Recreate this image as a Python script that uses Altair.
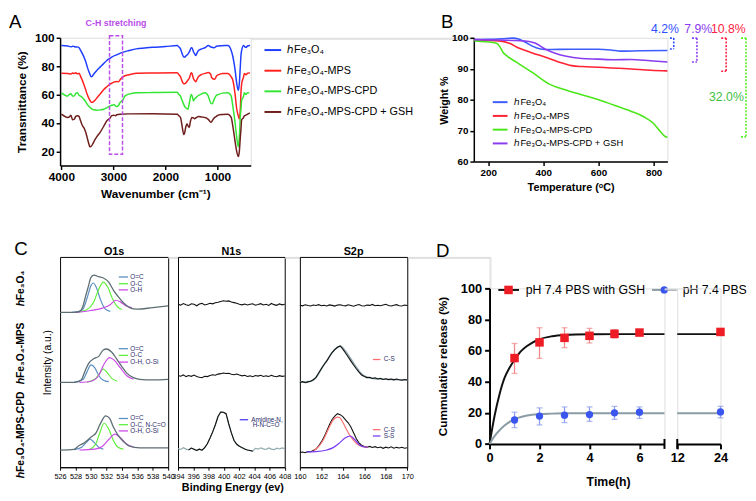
import altair as alt
import pandas as pd

FONT = "Liberation Sans"

# ======================= Panel A : FTIR =======================
A_series = ["ℎFe₃O₄", "ℎFe₃O₄-MPS", "ℎFe₃O₄-MPS-CPD", "ℎFe₃O₄-MPS-CPD + GSH"]
A_colors = ["#1f3dff", "#ff1f1f", "#33e633", "#6e1f1c"]

A_w_blue = [4000, 3880, 3817, 3786, 3755, 3723, 3692, 3660, 3629, 3597, 3566, 3534, 3503, 3453, 3428, 3409, 3377, 3315, 3252, 3189,
            3126, 3063, 3032, 2937, 2812, 2700, 2560, 2400, 2246, 2000, 1774, 1740, 1711, 1680, 1648, 1629, 1600, 1566, 1541, 1503,
            1491, 1459, 1440, 1415, 1396, 1365, 1302, 1239, 1176, 1126, 1063, 1019, 987, 860, 799, 736, 705, 660, 630, 598,
            579, 560, 547, 535, 497, 470, 453, 421, 390, 377]
A_T_blue = [94.5, 94.2, 93.6, 94.1, 93.8, 93.5, 93.6, 93.0, 91.0, 88.8, 86.4, 83.5, 79.5, 74.5, 72.6, 72.8, 74.5, 77.2, 79.5, 81.8,
            84.0, 85.6, 86.4, 88.0, 89.9, 91.0, 92.2, 92.8, 93.3, 93.8, 94.5, 93.5, 92.2, 89.0, 86.5, 86.4, 87.5, 88.5, 90.0, 92.9,
            92.9, 90.0, 88.8, 87.5, 89.0, 91.0, 92.2, 93.0, 94.5, 93.5, 93.0, 94.0, 94.2, 94.5, 94.5, 91.0, 87.0, 77.2, 68.0, 63.0,
            68.0, 80.0, 88.0, 91.0, 94.5, 93.5, 93.3, 94.2, 94.5, 94.8]

A_w_red = [4000, 3880, 3817, 3786, 3755, 3723, 3692, 3660, 3629, 3597, 3566, 3534, 3503, 3453, 3428, 3409, 3377, 3315, 3252, 3189,
           3126, 3063, 3032, 2990, 2937, 2900, 2874, 2812, 2700, 2560, 2246, 1774, 1740, 1711, 1680, 1648, 1629, 1600, 1566, 1541,
           1503, 1491, 1459, 1440, 1415, 1396, 1365, 1302, 1239, 1176, 1126, 1113, 1063, 1050, 1019, 987, 900, 799, 736, 705,
           660, 630, 598, 579, 560, 547, 535, 497, 484, 453, 421, 390, 377]
A_T_red = [75.0, 74.9, 74.5, 75.2, 74.8, 75.3, 74.6, 75.0, 72.6, 70.0, 66.9, 63.5, 60.0, 56.0, 54.7, 54.5, 55.2, 57.7, 60.5, 63.4,
           65.5, 67.4, 68.0, 68.8, 69.2, 69.0, 70.3, 72.6, 74.0, 75.0, 75.2, 75.4, 74.0, 72.6, 69.5, 67.6, 67.6, 68.5, 70.3, 71.5,
           75.4, 75.0, 71.0, 70.0, 69.0, 70.5, 72.6, 74.2, 74.9, 75.5, 74.0, 72.0, 70.8, 70.8, 73.0, 73.8, 74.9, 74.9, 72.5, 70.3,
           60.0, 50.0, 45.0, 42.8, 50.0, 62.0, 67.4, 72.6, 74.9, 74.0, 75.0, 75.2, 75.4]

A_w_green = [4000, 3880, 3850, 3817, 3786, 3755, 3723, 3692, 3660, 3629, 3597, 3566, 3534, 3503, 3453, 3409, 3377, 3315, 3252, 3189,
             3126, 3063, 3032, 2990, 2937, 2900, 2874, 2812, 2780, 2700, 2560, 2246, 1774, 1740, 1711, 1680, 1648, 1620, 1600, 1566,
             1541, 1503, 1491, 1459, 1440, 1415, 1396, 1333, 1239, 1176, 1150, 1126, 1100, 1063, 1019, 987, 900, 799, 736, 705,
             660, 630, 598, 579, 560, 547, 535, 497, 484, 453, 421, 390]
A_T_green = [61.2, 58.9, 60.0, 60.5, 59.0, 58.9, 60.8, 61.2, 59.5, 58.9, 58.0, 56.6, 55.0, 53.1, 51.0, 49.7, 49.3, 49.0, 49.2, 49.7,
             50.8, 52.0, 52.5, 52.8, 51.5, 52.5, 54.3, 56.6, 58.9, 60.3, 61.2, 61.4, 61.6, 60.0, 58.9, 56.0, 53.1, 51.0, 50.5, 49.7,
             54.0, 60.0, 59.5, 55.4, 57.0, 57.7, 58.5, 60.0, 61.2, 58.9, 56.0, 53.9, 53.5, 56.6, 59.5, 60.0, 61.0, 61.2, 58.9, 52.0,
             40.0, 30.0, 23.2, 30.0, 45.0, 50.0, 56.0, 58.9, 61.2, 60.0, 61.2, 61.2]

A_w_brown = [4000, 3880, 3840, 3817, 3786, 3755, 3723, 3692, 3660, 3640, 3597, 3566, 3534, 3503, 3470, 3453, 3430, 3400, 3377, 3315,
             3252, 3189, 3126, 3063, 3032, 2990, 2960, 2937, 2874, 2700, 2246, 1774, 1740, 1711, 1680, 1648, 1630, 1610, 1585, 1566,
             1541, 1520, 1491, 1459, 1440, 1400, 1365, 1302, 1239, 1176, 1126, 1100, 1063, 1019, 987, 900, 799, 736, 705, 660,
             630, 598, 579, 560, 547, 535, 497, 484, 453, 421, 390, 377]
A_T_brown = [46.2, 43.9, 44.5, 45.5, 42.3, 42.5, 44.6, 45.1, 44.6, 42.5, 38.2, 36.5, 33.6, 29.5, 25.0, 23.2, 23.5, 25.0, 26.7, 30.5,
             33.6, 37.5, 41.6, 43.5, 45.1, 45.5, 45.0, 45.8, 46.2, 46.4, 46.5, 46.2, 45.0, 43.9, 38.0, 31.8, 33.0, 37.0, 39.3, 38.0,
             37.0, 41.0, 43.9, 43.5, 43.0, 44.0, 44.6, 44.2, 43.9, 42.5, 40.5, 41.5, 43.5, 44.6, 45.5, 46.0, 46.2, 43.9, 38.0, 26.7,
             20.0, 16.3, 20.0, 30.0, 36.0, 42.0, 43.9, 45.0, 45.5, 46.2, 46.8, 47.0]

A_box_w = [3075, 2825]
A_box_T = [18, 101.4]
A_box_label = "C-H stretching"
A_box_color = "#b84dea"

# ======================= Panel B : TGA =======================
B_series = ["ℎFe₃O₄ ", "ℎFe₃O₄-MPS ", "ℎFe₃O₄-MPS-CPD ", "ℎFe₃O₄-MPS-CPD + GSH "]
B_colors = ["#3d5cff", "#ff2233", "#4be61a", "#8a3cf0"]
B_T_blue = [150, 200, 250, 290, 310, 330, 360, 390, 420, 500, 600, 650, 680, 750, 850]
B_W_blue = [99.4, 99.5, 99.7, 99.9, 99.6, 98.8, 97.3, 96.4, 96.2, 96.3, 96.3, 96.0, 95.7, 95.8, 95.9]
B_T_red = [150, 240, 277, 313, 360, 408, 455, 503, 540, 600, 720, 790, 850]
B_W_red = [99.3, 99.0, 98.2, 96.6, 95.1, 93.7, 92.2, 91.0, 90.7, 90.5, 89.9, 89.5, 89.3]
B_T_green = [150, 194, 230, 241, 253, 271, 301, 360, 420, 479, 539, 598, 657, 717, 764, 800, 824, 842, 850]
B_W_green = [99.0, 98.7, 98.2, 97.3, 95.4, 93.9, 92.2, 88.8, 85.1, 83.2, 81.6, 80.1, 78.2, 76.3, 74.5, 72.3, 69.7, 68.1, 67.9]
B_T_purple = [150, 241, 301, 348, 372, 408, 443, 479, 539, 598, 657, 717, 788, 850]
B_W_purple = [99.4, 99.3, 99.1, 98.8, 98.2, 96.3, 95.0, 94.1, 93.3, 93.1, 92.9, 93.0, 92.6, 92.2]

B_loss_labels = ["4.2%", "7.9%", "10.8%", "32.0%"]
B_loss_colors = ["#3050ff", "#8a3cf0", "#ff2244", "#44c044"]
B_bracket_colors = ["#3050ff", "#8a3cf0", "#ff2244", "#55ee22"]
B_bracket_x = [873, 957, 1063, 1135]
B_bracket_tick = [14, 18, 18, 18]
B_bracket_top = [99.9, 99.9, 99.9, 99.9]
B_bracket_bottom = [96.4, 92.2, 89.2, 68.0]
B_label_x = [841, 962, 1071, 1064]
B_label_y = [102.7, 102.7, 102.7, 80.9]

# ======================= Panel C : XPS =======================
C_titles = ["O1s", "N1s", "S2p"]
C_comp_colors = {"O=C": "#5a8fc0", "O-C": "#5ef03a", "O-H": "#cc4be8"}
C_env_color = "#5d6d73"
C_fit_color = "#8fa8ad"
C_txt_color = "#2b2b6b"

O1_env1_x = [526, 527.8, 528.5, 528.9, 529.3, 529.7, 530.0, 530.4, 531.0, 531.6, 532.3, 532.9, 533.5, 534.2, 535.0, 535.9, 538.0, 540]
O1_env1_y = [162, 162, 163, 167, 178.7, 190.3, 198.7, 201, 199.3, 198, 193.7, 185.3, 178.7, 172, 167, 165.3, 167, 168.7]
O1_a1_x = [527.5, 528.5, 529.0, 529.5, 530.0, 530.3, 530.7, 531.2, 531.8, 532.5]
O1_a1_y = [162, 163, 166, 177, 190, 192.7, 188, 176, 166, 163]
O1_b1_x = [528.0, 529.5, 530.3, 531.0, 531.6, 532.2, 532.8, 533.4, 534.0]
O1_b1_y = [162, 165, 172, 186, 193.7, 188, 176, 168, 165]
O1_c1_x = [528.0, 530.0, 531.5, 532.5, 533.2, 533.8, 534.5, 535.3]
O1_c1_y = [162, 164, 166.5, 170, 174.7, 173, 169, 167]

O1_env2_x = [526, 527.8, 528.7, 529.3, 529.7, 530.4, 531.0, 531.6, 532.0, 532.7, 533.3, 534.0, 534.6, 535.5, 536.3, 538.0, 540]
O1_env2_y = [88.7, 88.7, 91, 102, 108.7, 113.7, 116, 122.7, 123.7, 120.3, 113.7, 105.3, 98.7, 93.7, 92, 91.3, 92]
O1_a2_x = [527.8, 529.0, 529.5, 530.0, 530.5, 531.0, 531.6, 532.3]
O1_a2_y = [88.7, 92, 100, 107, 104, 96, 91, 89.5]
O1_b2_x = [529.5, 530.5, 531.1, 531.6, 532.1, 532.7, 533.4]
O1_b2_y = [89, 92, 98, 102.7, 99, 93, 90]
O1_c2_x = [528.5, 530.0, 531.0, 531.7, 532.4, 533.0, 533.8, 534.6, 535.5]
O1_c2_y = [88.7, 90, 96, 108, 114.7, 112, 104, 96, 92]

O1_env3_x = [526, 527.8, 528.45, 529.1, 529.7, 530.2, 530.6, 531.2, 531.9, 532.4, 532.9, 533.5, 534.2, 535.0, 536.3, 540]
O1_env3_y = [18, 18.7, 22.7, 25.3, 29.3, 32.7, 35.3, 45.3, 53.7, 51.3, 42, 33.7, 27, 22, 20.3, 20.3]
O1_a3_x = [527.8, 528.8, 529.4, 529.9, 530.4, 531.0, 531.6]
O1_a3_y = [18.5, 21, 26, 29.3, 26, 21, 19]
O1_b3_x = [529.8, 530.6, 531.1, 531.7, 532.3, 532.9, 533.5, 534.2]
O1_b3_y = [18.5, 24, 35, 46, 40, 28, 21, 19]
O1_c3_x = [528.5, 530.5, 531.5, 532.3, 533.1, 533.8, 534.5, 535.5]
O1_c3_y = [18, 19, 22, 29, 34.7, 31, 25, 21]

O1_leg_labels = [["O=C", "O-C", "O-H"], ["O=C", "O-C", "O-H, O-Si"], ["O=C", "O-C, N-C=O", "O-H, O-Si"]]
O1_leg_y = [[199, 192, 185.5], [124, 117, 110], [51, 44.5, 38]]

N1_x = [394.0, 394.35, 394.7, 395.05, 395.4, 395.75, 396.1, 396.45, 396.8, 397.15, 397.5, 397.85, 398.2, 398.55,
        398.9, 399.25, 399.6, 399.95, 400.3, 400.65, 401.0, 401.35, 401.7, 402.05, 402.4, 402.75, 403.1, 403.45,
        403.8, 404.15, 404.5, 404.85, 405.2, 405.55, 405.9, 406.25, 406.6, 406.95, 407.3, 407.65, 408.0]
N1_y1 = [170.5, 169.6, 171.2, 170.0, 169.2, 171.0, 170.4, 168.9, 170.8, 171.4, 169.8, 170.6, 171.6, 170.9, 172.0, 172.6,
         173.4, 174.2, 173.6, 174.0, 172.8, 172.2, 171.5, 170.6, 169.9, 170.8, 169.7, 170.4, 171.0, 169.5, 170.2, 171.1,
         169.8, 170.5, 169.2, 171.3, 170.1, 169.4, 170.9, 169.9, 170.6]
N1_y2 = [96.0, 95.2, 96.6, 94.8, 95.9, 95.1, 96.4, 95.0, 94.2, 93.6, 95.2, 94.8, 96.0, 96.7, 96.2, 97.4, 97.9, 98.6,
         98.0, 98.3, 97.2, 96.8, 97.5, 96.4, 95.6, 96.2, 95.0, 95.6, 94.7, 95.9, 95.3, 96.2, 94.9, 95.6, 95.0, 96.1,
         95.2, 94.6, 95.8, 95.1, 95.5]
N1_y3 = [19.5, 18.6, 20.4, 19.0, 18.2, 20.0, 18.8, 17.5, 18.9, 17.8, 20.5, 24.5, 30.5, 37.0, 44.5, 53.0, 57.7, 57.5,
         56.0, 45.5, 36.0, 28.0, 24.0, 22.0, 20.5, 19.0, 18.0, 17.5, 16.8, 19.8, 18.9, 20.3, 19.2, 18.6, 20.1, 19.0,
         18.4, 19.9, 19.1, 20.2, 19.4]
N1_raw_range = [395.3, 403.9]

S2_x = [160.0, 160.25, 160.5, 160.75, 161.0, 161.25, 161.5, 161.75, 162.0, 162.25, 162.5, 162.75, 163.0, 163.25,
        163.5, 163.75, 164.0, 164.25, 164.5, 164.75, 165.0, 165.25, 165.5, 165.75, 166.0, 166.25, 166.5, 166.75,
        167.0, 167.25, 167.5, 167.75, 168.0, 168.25, 168.5, 168.75, 169.0, 169.25, 169.5, 169.75, 170.0]
S2_y1 = [169.4, 168.8, 169.9, 169.1, 168.6, 169.7, 169.2, 170.1, 168.9, 169.5, 168.7, 169.8, 169.3, 168.6, 169.6,
         170.0, 169.1, 168.8, 169.9, 169.2, 168.5, 169.4, 170.2, 169.0, 168.7, 169.6, 169.3, 170.3, 168.9, 169.4,
         169.0, 169.7, 170.4, 169.1, 168.6, 169.5, 170.1, 169.0, 168.7, 169.6, 169.2]
S2_y2 = [88.7, 89.5, 88.4, 89.3, 90.0, 91.5, 94.0, 98.5, 103.0, 107.5, 111.0, 115.5, 120.0, 123.0, 125.5, 126.8,
         123.5, 119.5, 115.3, 111.0, 107.0, 103.0, 99.5, 96.5, 95.0, 93.8, 94.2, 92.8, 93.5, 92.4, 93.0, 91.8, 92.6,
         91.7, 92.3, 91.4, 92.2, 91.5, 91.0, 91.8, 91.3]
S2_y3 = [15.3, 16.0, 15.2, 16.5, 16.2, 17.5, 19.0, 22.5, 26.5, 31.5, 38.0, 44.5, 50.0, 53.5, 56.0, 55.0, 53.0,
         49.5, 46.5, 42.0, 36.0, 30.0, 25.5, 23.0, 21.8, 21.0, 21.8, 20.6, 21.5, 20.4, 21.2, 19.8, 21.0, 20.2, 21.4,
         19.9, 20.8, 20.1, 20.9, 19.8, 20.3]
S2_fit2_x = [160, 161, 161.5, 162, 162.5, 163, 163.5, 163.8, 164.2, 164.7, 165.2, 165.7, 166.3, 167, 168, 170]
S2_fit2_y = [89, 90, 93.5, 103, 111.5, 120, 125.5, 126.5, 122, 114, 105.5, 98, 94, 92.7, 92, 91.3]
S2_cs_x = [161.3, 161.7, 162.2, 162.7, 163.1, 163.5, 163.7, 164.0, 164.3, 164.65, 165.0, 165.3, 165.6, 166.0, 166.3]
S2_cs_y = [17.5, 21, 29, 41, 49.5, 52.5, 52, 47, 40.3, 33.5, 28, 24.5, 22.5, 21.2, 21]
S2_ss_x = [160.6, 161.5, 162.5, 163.1, 163.7, 164.2, 164.7, 165.1, 165.6, 166.0, 166.3]
S2_ss_y = [16, 16.3, 18, 20.5, 25.5, 30.5, 32.7, 29, 23, 21.2, 21]
S2_cs_color = "#ff6f6f"
S2_ss_color = "#7a3cf0"

C_row_labels = ["ℎFe₃O₄", "ℎFe₃O₄-MPS", "ℎFe₃O₄-MPS-CPD"]

# ======================= Panel D : release =======================
D_t = [1, 2, 3, 4, 5, 6]
D_gsh = [55.2, 65.3, 68.2, 69.5, 70.8, 71.6]
D_gsh_lo = [45.3, 55.0, 61.9, 64.9, 68.0, 70.0]
D_gsh_hi = [64.6, 74.7, 74.7, 74.3, 73.5, 73.0]
D_pbs = [15.4, 17.9, 18.5, 18.9, 20.0, 20.4]
D_pbs_lo = [10.5, 12.2, 13.7, 14.5, 15.8, 16.4]
D_pbs_hi = [20.4, 23.2, 23.8, 23.8, 24.1, 23.8]
D_t24 = [24]
D_gsh24, D_gsh24_lo, D_gsh24_hi = [72.0], [70.3], [73.6]
D_pbs24, D_pbs24_lo, D_pbs24_hi = [20.6], [16.8], [24.2]
D_fit_t = [0, 0.2, 0.4, 0.6, 0.8, 1.0, 1.25, 1.5, 2.0, 2.5, 3.0, 4.0, 5.0, 7.0]
D_fit_gsh = [0, 18, 32, 42.5, 49, 54, 59.5, 63, 67.3, 69.2, 70, 70.5, 70.6, 70.6]
D_fit_pbs = [0, 5, 8.8, 11.8, 14.2, 16.0, 17.3, 18.3, 19.2, 19.5, 19.7, 19.8, 19.8, 19.8]
D_fit2_t = [12, 24]
D_fit2_gsh = [70.6, 70.6]
D_fit2_pbs = [19.8, 19.8]
D_names = ["pH 7.4 PBS with GSH", "pH 7.4 PBS"]
D_red, D_blue = "#ee1c25", "#3a56ee"
D_red_err, D_blue_err = "#f08a8a", "#8e9cf0"
D_black_fit, D_grey_fit = "#111111", "#8a9ca4"


# ======================= helpers =======================
def ax(**kw):
    base = dict(grid=False, labelFont=FONT, titleFont=FONT, labelColor="black", titleColor="black",
                domainColor="black", tickColor="black", labelOverlap=False, labelBound=False, tickCount=100,
                format="d")
    base.update(kw)
    return alt.Axis(**base)


def spacer(w, h):
    return alt.Chart(pd.DataFrame({"v": [0]})).mark_point(opacity=0).encode(
        x=alt.value(0), y=alt.value(0)).properties(width=w, height=h)


def letter(txt, x, y, size=19, angle=0, weight="normal", align="left", baseline="alphabetic", color="black"):
    return alt.Chart(pd.DataFrame({"t": [txt]})).mark_text(
        text=txt, align=align, baseline=baseline, fontSize=size, font=FONT, color=color,
        fontWeight=weight, angle=angle).encode(x=alt.value(x), y=alt.value(y))


def traces_df(traces):
    rows = []
    for name, xs, ys, col in traces:
        for a, b in zip(xs, ys):
            rows.append({"trace": name, "x": a, "y": b, "col": col})
    return pd.DataFrame(rows)


# ======================= Chart A =======================
a_df = traces_df([(A_series[0], A_w_blue, A_T_blue, A_colors[0]),
                  (A_series[1], A_w_red, A_T_red, A_colors[1]),
                  (A_series[2], A_w_green, A_T_green, A_colors[2]),
                  (A_series[3], A_w_brown, A_T_brown, A_colors[3])])
a_x = alt.X("x:Q", scale=alt.Scale(domain=[360, 4025], reverse=True, nice=False, zero=False),
            axis=ax(values=[4000, 3000, 2000, 1000], title="Wavenumber (cm⁻¹)",
                    labelFontSize=12, labelFontWeight="bold", titleFontSize=12, titleFontWeight="bold",
                    domainWidth=1.5, tickWidth=1.5, tickSize=4, labelPadding=2,
                    titleX=97, titleY=29, titleBaseline="middle", titleAlign="center"))
a_y = alt.Y("y:Q", scale=alt.Scale(domain=[10, 100], nice=False, zero=False),
            axis=ax(values=[20, 40, 60, 80, 100], title="Transmittance (%)",
                    labelFontSize=12, labelFontWeight="bold", titleFontSize=12, titleFontWeight="bold",
                    domainWidth=1.5, tickWidth=1.5, tickSize=4, labelPadding=2,
                    titleX=-38.7, titleY=65, titleBaseline="middle", titleAlign="center", titleAngle=270))
a_lines = alt.Chart(a_df).mark_line(strokeWidth=1.5, interpolate="monotone").encode(
    x=a_x, y=a_y,
    color=alt.Color("trace:N", scale=alt.Scale(domain=A_series, range=A_colors),
                    legend=alt.Legend(orient="none", legendX=207, legendY=3, title=None, symbolType="stroke",
                                      symbolSize=289, symbolStrokeWidth=2, labelFont=FONT, labelFontSize=11,
                                      labelColor="black", rowPadding=6, padding=0, labelOffset=5)))
a_box_df = pd.DataFrame({"x": [A_box_w[0]], "x2": [A_box_w[1]], "y": [A_box_T[0]], "y2": [A_box_T[1]]})
a_box = alt.Chart(a_box_df).mark_rect(filled=False, stroke=A_box_color, strokeDash=[4, 2], strokeWidth=1.5).encode(
    x="x:Q", x2="x2:Q", y="y:Q", y2="y2:Q")
a_lbl_df = pd.DataFrame({"x": [sum(A_box_w) / 2], "y": [110.6], "t": [A_box_label]})
a_lbl = alt.Chart(a_lbl_df).mark_text(color=A_box_color, fontWeight="bold", fontSize=9, font=FONT).encode(
    x="x:Q", y="y:Q", text="t:N")
chartA = alt.layer(a_lines, a_box, a_lbl, letter("A", -52, -10)).properties(width=194, height=130)

# ======================= Chart B =======================
b_df = traces_df([(B_series[0], B_T_blue, B_W_blue, B_colors[0]),
                  (B_series[1], B_T_red, B_W_red, B_colors[1]),
                  (B_series[2], B_T_green, B_W_green, B_colors[2]),
                  (B_series[3], B_T_purple, B_W_purple, B_colors[3])])
b_x = alt.X("x:Q", scale=alt.Scale(domain=[148, 850], nice=False, zero=False),
            axis=ax(values=[200, 400, 600, 800], title="Temperature (ᵒC)",
                    labelFontSize=10, labelFontWeight="bold", titleFontSize=11, titleFontWeight="bold",
                    domainWidth=1.5, tickWidth=1.5, tickSize=4, labelPadding=2,
                    titleX=98.5, titleY=26.5, titleBaseline="middle", titleAlign="center"))
b_y = alt.Y("y:Q", scale=alt.Scale(domain=[60, 100], nice=False, zero=False),
            axis=ax(values=[60, 70, 80, 90, 100], title="Weight %",
                    labelFontSize=10, labelFontWeight="bold", titleFontSize=11, titleFontWeight="bold",
                    domainWidth=1.5, tickWidth=1.5, tickSize=4, labelPadding=2,
                    titleX=-30, titleY=63.5, titleBaseline="middle", titleAlign="center", titleAngle=270))
b_lines = alt.Chart(b_df).mark_line(strokeWidth=1.6, interpolate="monotone").encode(
    x=b_x, y=b_y,
    color=alt.Color("trace:N", scale=alt.Scale(domain=B_series, range=B_colors),
                    legend=alt.Legend(orient="none", legendX=18.3, legendY=57, title=None, symbolType="stroke",
                                      symbolSize=225, symbolStrokeWidth=2, labelFont=FONT, labelFontSize=9.5,
                                      labelColor="black", rowPadding=1, padding=0, labelOffset=6)))
seg_rows = []
for i in range(4):
    xv, tk = B_bracket_x[i], B_bracket_tick[i]
    top, bot, c = B_bracket_top[i], B_bracket_bottom[i], B_bracket_colors[i]
    seg_rows.append({"x": xv, "x2": xv, "y": top, "y2": bot, "c": c})
    seg_rows.append({"x": xv - tk, "x2": xv, "y": top, "y2": top, "c": c})
    seg_rows.append({"x": xv - tk, "x2": xv, "y": bot, "y2": bot, "c": c})
b_seg = alt.Chart(pd.DataFrame(seg_rows)).mark_rule(strokeDash=[2, 1.5], strokeWidth=1.6).encode(
    x="x:Q", x2="x2:Q", y="y:Q", y2="y2:Q", color=alt.Color("c:N", scale=None))
b_txt = alt.Chart(pd.DataFrame({"x": B_label_x, "y": B_label_y, "t": B_loss_labels, "c": B_loss_colors})).mark_text(
    fontSize=12.5, font=FONT).encode(x="x:Q", y="y:Q", text="t:N", color=alt.Color("c:N", scale=None))
chartB = alt.layer(b_lines, b_seg, b_txt, letter("B", -33.4, -10)).properties(width=197, height=126)

C_H = 214


# ======================= Chart C =======================
def c_panel(domain, ticks, width, title, line_layers, x_title=None, y_title=None, extra=()):
    xs = alt.X("x:Q", scale=alt.Scale(domain=domain, nice=False, zero=False),
               axis=ax(values=ticks, labelFontSize=7.5, tickSize=3, domainWidth=1, tickWidth=1,
                       labelPadding=2, labelFlush=False, labelAlign="center",
                       title=x_title, titleFontSize=11, titleFontWeight="bold",
                       **({"titleX": width / 2 + 1, "titleY": 21, "titleBaseline": "middle", "titleAlign": "center"} if x_title else {})))
    if y_title:
        ys = alt.Y("y:Q", scale=alt.Scale(domain=[0, 220], nice=False, zero=False),
                   axis=ax(labels=False, ticks=False, domain=False, title=y_title, titleFontSize=10.5,
                           titleFontWeight="normal", titleX=-13.2, titleY=C_H / 2, titleBaseline="middle",
                           titleAlign="center", titleAngle=270))
    else:
        ys = alt.Y("y:Q", scale=alt.Scale(domain=[0, 220], nice=False, zero=False), axis=None)
    layers = []
    for df, sw, interp in line_layers:
        layers.append(alt.Chart(df).mark_line(strokeWidth=sw, interpolate=interp).encode(
            x=xs, y=ys, color=alt.Color("col:N", scale=None), detail="trace:N"))
    layers.extend(extra)
    layers.append(letter(title, width / 2, 0, size=11, weight="bold", align="center", baseline="bottom"))
    return alt.layer(*layers).properties(
        width=width, height=C_H, view=alt.ViewBackground(stroke="black", strokeWidth=1))


def legend_marks(seg_x, txt_x, ys, labels, colors, size=6.5):
    seg = pd.DataFrame({"x": [seg_x[0]] * len(ys), "x2": [seg_x[1]] * len(ys), "y": ys, "c": colors})
    txt = pd.DataFrame({"x": [txt_x] * len(ys), "y": ys, "t": labels})
    r = alt.Chart(seg).mark_rule(strokeWidth=1.3).encode(x="x:Q", x2="x2:Q", y="y:Q",
                                                        color=alt.Color("c:N", scale=None))
    t = alt.Chart(txt).mark_text(align="left", baseline="middle", fontSize=size, font=FONT,
                                 color=C_txt_color).encode(x="x:Q", y="y:Q", text="t:N")
    return [r, t]


oc = [C_comp_colors["O=C"], C_comp_colors["O-C"], C_comp_colors["O-H"]]
o1_comps = traces_df([("a1", O1_a1_x, O1_a1_y, oc[0]), ("b1", O1_b1_x, O1_b1_y, oc[1]), ("c1", O1_c1_x, O1_c1_y, oc[2]),
                      ("a2", O1_a2_x, O1_a2_y, oc[0]), ("b2", O1_b2_x, O1_b2_y, oc[1]), ("c2", O1_c2_x, O1_c2_y, oc[2]),
                      ("a3", O1_a3_x, O1_a3_y, oc[0]), ("b3", O1_b3_x, O1_b3_y, oc[1]), ("c3", O1_c3_x, O1_c3_y, oc[2])])
o1_env = traces_df([("e1", O1_env1_x, O1_env1_y, C_env_color), ("e2", O1_env2_x, O1_env2_y, C_env_color),
                    ("e3", O1_env3_x, O1_env3_y, C_env_color)])
o1_extra = []
for labs, ys in zip(O1_leg_labels, O1_leg_y):
    o1_extra += legend_marks([533.6, 534.8], 535.1, ys, labs, oc)
o1_extra.append(letter("C", -46.7, -2))
for lab, yc in zip(C_row_labels, [32, 98, 181]):
    o1_extra.append(letter(lab, -39.7, yc, size=10.5, angle=270, weight="bold", align="center", baseline="middle"))
chartC1 = c_panel([526, 540], list(range(526, 541, 2)), 110, C_titles[0],
                  [(o1_comps, 1.2, "monotone"), (o1_env, 1.3, "monotone")],
                  y_title="Intensity (a.u.)", extra=o1_extra)

n1_raw = traces_df([("n1", N1_x, N1_y1, "#111111"), ("n2", N1_x, N1_y2, "#111111")])
n1_fit3 = traces_df([("n3f", N1_x, N1_y3, C_fit_color)])
n1_raw3 = n1_fit3[(n1_fit3.x >= N1_raw_range[0]) & (n1_fit3.x <= N1_raw_range[1])].assign(col="#111111", trace="n3")
n1_extra = legend_marks([402.1, 403.2], 403.6, [49.7], ["Amidine-N,"], ["#4a3cf0"])
n1_extra.append(alt.Chart(pd.DataFrame({"x": [403.8], "y": [43.7], "t": ["H-N-C=O"]})).mark_text(
    align="left", baseline="middle", fontSize=6.5, font=FONT, color=C_txt_color).encode(x="x:Q", y="y:Q", text="t:N"))
chartC2 = c_panel([394, 408], list(range(394, 409, 2)), 108.6, C_titles[1],
                  [(n1_raw, 1.1, "linear"), (n1_fit3, 1.2, "linear"), (n1_raw3, 1.1, "linear")],
                  x_title="Binding Energy (ev)", extra=n1_extra)

s2_fit = traces_df([("f2", S2_fit2_x, S2_fit2_y, C_fit_color)])
s2_comp = traces_df([("cs", S2_cs_x, S2_cs_y, S2_cs_color), ("ss", S2_ss_x, S2_ss_y, S2_ss_color)])
s2_raw = traces_df([("s1", S2_x, S2_y1, "#111111"), ("s2", S2_x, S2_y2, "#111111"), ("s3", S2_x, S2_y3, "#111111")])
s2_extra = legend_marks([166.8, 167.5], 167.8, [112.7], ["C-S"], [S2_cs_color])
s2_extra += legend_marks([166.8, 167.5], 167.8, [39.3, 32.7], ["C-S", "S-S"], [S2_cs_color, S2_ss_color])
chartC3 = c_panel([160, 170], list(range(160, 171, 2)), 109.3, C_titles[2],
                  [(s2_fit, 1.6, "monotone"), (s2_raw, 1.1, "linear"), (s2_comp, 1.2, "monotone")],
                  extra=s2_extra)


# ======================= Chart D =======================
def d_axes(domain, ticks, main):
    xs = alt.X("t:Q", scale=alt.Scale(domain=domain, nice=False, zero=False),
               axis=ax(values=ticks, labelFontSize=13, labelFontWeight="bold", domainWidth=2,
                       tickWidth=2, tickSize=5, labelPadding=3, labelFlush=False,
                       title="Time(h)" if main else None, titleFontSize=12.5, titleFontWeight="bold",
                       **({"titleX": 120.7, "titleY": 38, "titleBaseline": "middle", "titleAlign": "center"} if main else {})))
    if main:
        ys = alt.Y("v:Q", scale=alt.Scale(domain=[0, 100], nice=False, zero=False),
                   axis=ax(values=[0, 20, 40, 60, 80, 100], labelFontSize=13, labelFontWeight="bold",
                           domainWidth=2, tickWidth=2, tickSize=5, labelPadding=3,
                           title="Cummulative release (%)", titleFontSize=12, titleFontWeight="bold",
                           titleX=-48, titleY=79, titleBaseline="middle", titleAlign="center", titleAngle=270))
    else:
        ys = alt.Y("v:Q", scale=alt.Scale(domain=[0, 100], nice=False, zero=False), axis=None)
    return xs, ys


def d_layers(xs, ys, fit_t, fit_g, fit_p, t, g, glo, ghi, p, plo, phi, brk):
    fit = pd.DataFrame({"t": list(fit_t) * 2, "v": list(fit_g) + list(fit_p),
                        "s": [D_names[0]] * len(fit_t) + [D_names[1]] * len(fit_t),
                        "c": [D_black_fit] * len(fit_t) + [D_grey_fit] * len(fit_t)})
    pts = pd.DataFrame({"t": list(t) * 2, "v": list(g) + list(p), "lo": list(glo) + list(plo),
                        "hi": list(ghi) + list(phi),
                        "s": [D_names[0]] * len(t) + [D_names[1]] * len(t),
                        "ce": [D_red_err] * len(t) + [D_blue_err] * len(t)})
    lines = alt.Chart(fit).mark_line(strokeWidth=2, interpolate="monotone").encode(
        x=xs, y=ys, color=alt.Color("c:N", scale=None), detail="s:N")
    err = alt.Chart(pts).mark_rule(strokeWidth=1.3).encode(x="t:Q", y="lo:Q", y2="hi:Q",
                                                          color=alt.Color("ce:N", scale=None))
    cap_lo = alt.Chart(pts).mark_tick(orient="horizontal", size=6, thickness=1.3).encode(
        x="t:Q", y="lo:Q", color=alt.Color("ce:N", scale=None))
    cap_hi = alt.Chart(pts).mark_tick(orient="horizontal", size=6, thickness=1.3).encode(
        x="t:Q", y="hi:Q", color=alt.Color("ce:N", scale=None))
    sq = alt.Chart(pts[pts.s == D_names[0]]).mark_point(shape="square", filled=True, size=75, opacity=1,
                                                        color=D_red).encode(x="t:Q", y="v:Q")
    ci = alt.Chart(pts[pts.s == D_names[1]]).mark_circle(size=55, opacity=1, color=D_blue).encode(x="t:Q", y="v:Q")
    br = alt.Chart(pd.DataFrame({"t": [brk], "lo": [-3.2], "hi": [3.2]})).mark_rule(strokeWidth=2, color="black").encode(
        x="t:Q", y="lo:Q", y2="hi:Q")
    return [lines, err, cap_lo, cap_hi, sq, ci, br]


dx1, dy1 = d_axes([0, 7], [0, 2, 4, 6], True)
d1 = d_layers(dx1, dy1, D_fit_t, D_fit_gsh, D_fit_pbs, D_t, D_gsh, D_gsh_lo, D_gsh_hi,
              D_pbs, D_pbs_lo, D_pbs_hi, 7)
leg = pd.DataFrame({"t": [0.35, 6.5], "t2": [1.18, 7.49], "m": [0.76, 6.99], "tx": [1.45, 7.73], "v": [99, 99],
                    "lab": D_names, "c": [D_black_fit, D_grey_fit]})
d1_leg = [
    alt.Chart(leg).mark_rule(strokeWidth=2).encode(x="t:Q", x2="t2:Q", y="v:Q", color=alt.Color("c:N", scale=None)),
    alt.Chart(leg.iloc[[0]]).mark_point(shape="square", filled=True, size=75, opacity=1, color=D_red).encode(
        x="m:Q", y="v:Q"),
    alt.Chart(leg.iloc[[1]]).mark_circle(size=55, opacity=1, color=D_blue).encode(x="m:Q", y="v:Q"),
    alt.Chart(leg).mark_text(align="left", baseline="middle", fontSize=12.5, font=FONT, color="black").encode(
        x="tx:Q", y="v:Q", text="lab:N"),
]
chartD1 = alt.layer(*d1, *d1_leg, letter("D", -54.6, -31.7)).properties(width=178, height=158.3)

dx2, dy2 = d_axes([12, 24], [12, 24], False)
d2 = d_layers(dx2, dy2, D_fit2_t, D_fit2_gsh, D_fit2_pbs, D_t24, D_gsh24, D_gsh24_lo, D_gsh24_hi,
              D_pbs24, D_pbs24_lo, D_pbs24_hi, 12)
chartD2 = alt.layer(*d2).properties(width=44, height=158.3)

# ======================= layout =======================
row1 = alt.hconcat(chartA, spacer(226.7, 1), chartB, spacing=0, bounds="flush").resolve_scale(
    x="independent", y="independent", color="independent")
d_inner = alt.hconcat(chartD1, spacer(13, 1), chartD2, spacing=0, bounds="flush").resolve_scale(
    x="independent", y="independent")
d_group = alt.vconcat(spacer(1, 31.7), d_inner, spacing=0, bounds="flush")
row2 = alt.hconcat(chartC1, spacer(10, 1), chartC2, spacer(14.7, 1), chartC3, spacer(82.7, 1), d_group,
                   spacing=0, bounds="flush").resolve_scale(x="independent", y="independent")

chart = alt.vconcat(row1, row2, spacing=39).resolve_scale(
    x="independent", y="independent", color="independent").properties(padding=0).configure_view(
    stroke="transparent").configure(font=FONT)

chart.save("out.html", embed_options={"renderer": "svg", "actions": False})
